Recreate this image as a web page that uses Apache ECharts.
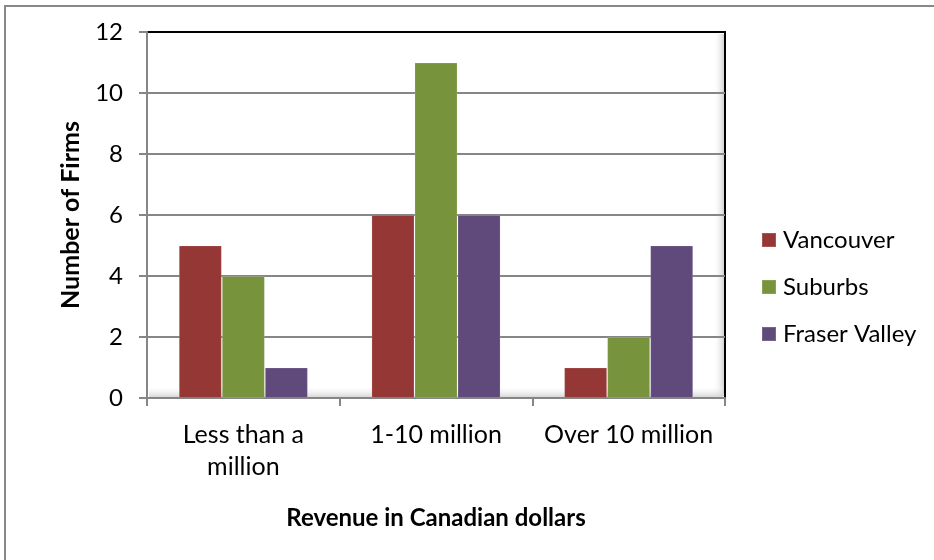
<!DOCTYPE html>
<html>
<head>
<meta charset="utf-8">
<style>
  html, body { margin: 0; padding: 0; background: #fff; }
  #chart { width: 934px; height: 560px; }
</style>
<script src="https://cdn.jsdelivr.net/npm/echarts@6/dist/echarts.min.js"></script>
</head>
<body>
<div id="chart"></div>
<script>
// Revenue bands and firm counts per region
const categories = ['Less than a\nmillion', '1-10 million', 'Over 10 million'];
const vancouver = [5, 6, 1];
const suburbs = [4, 11, 2];
const fraserValley = [1, 6, 5];
const seriesNames = ['Vancouver', 'Suburbs', 'Fraser Valley'];
const seriesColors = ['#953735', '#77933C', '#604A7B'];

const FONT = 'Lato, "Liberation Sans", sans-serif';
const chart = echarts.init(document.getElementById('chart'));

const plot = { left: 147, top: 32, width: 578, height: 366 };

chart.setOption({
  animation: false,
  textStyle: { fontFamily: FONT, color: '#000' },
  grid: {
    left: plot.left, top: plot.top, width: plot.width, height: plot.height,
    show: true, borderColor: '#000', borderWidth: 2, backgroundColor: 'transparent'
  },
  legend: {
    orient: 'vertical',
    left: 761, top: 228,
    padding: 0,
    itemWidth: 14, itemHeight: 14, itemGap: 23,
    icon: 'rect',
    textStyle: { fontSize: 24, fontFamily: FONT, color: '#000', padding: [0, 0, 0, 2] },
    data: seriesNames
  },
  xAxis: {
    type: 'category',
    data: categories,
    name: 'Revenue in Canadian dollars',
    nameLocation: 'middle',
    nameGap: 108,
    nameTextStyle: { fontSize: 24, fontWeight: 'bold', fontFamily: FONT, color: '#000' },
    axisLine: { show: true, lineStyle: { color: '#868686', width: 2 } },
    axisTick: { show: true, length: 8, alignWithLabel: false, lineStyle: { color: '#868686', width: 2 } },
    axisLabel: { fontSize: 25, lineHeight: 32, margin: 21, color: '#000', fontFamily: FONT, interval: 0 },
    splitLine: { show: false }
  },
  yAxis: {
    type: 'value',
    min: 0, max: 12, interval: 2,
    name: 'Number of Firms',
    nameLocation: 'middle',
    nameGap: 64,
    nameRotate: 90,
    nameTextStyle: { fontSize: 25, fontWeight: 'bold', fontFamily: FONT, color: '#000' },
    axisLine: { show: true, lineStyle: { color: '#868686', width: 2 } },
    axisTick: { show: true, length: 8, lineStyle: { color: '#868686', width: 2 } },
    axisLabel: { fontSize: 24, margin: 24, color: '#000', fontFamily: FONT },
    splitLine: { show: true, lineStyle: { color: ['#868686', '#868686', '#868686', '#868686', '#868686', '#868686', '#000'], width: 2 } }
  },
  graphic: [
    // outer chart frame
    { type: 'rect', shape: { x: 5, y: 6, width: 1000, height: 1000 }, style: { fill: 'none', stroke: '#888', lineWidth: 2 }, z: 100 },
    // back-wall shading on the right edge
    { type: 'rect', shape: { x: plot.left + plot.width - 12, y: plot.top + 2, width: 11, height: plot.height - 4 },
      style: { fill: new echarts.graphic.LinearGradient(0, 0, 1, 0, [{ offset: 0, color: 'rgba(255,255,255,0)' }, { offset: 1, color: 'rgba(200,200,200,0.8)' }]) }, z: -1 },
    // floor shading at the bottom
    { type: 'rect', shape: { x: plot.left + 2, y: plot.top + plot.height - 13, width: plot.width - 4, height: 12 },
      style: { fill: new echarts.graphic.LinearGradient(0, 0, 0, 1, [{ offset: 0, color: 'rgba(255,255,255,0)' }, { offset: 1, color: 'rgba(205,205,205,0.8)' }]) }, z: -1 }
  ],
  series: [vancouver, suburbs, fraserValley].map((data, i) => ({
    name: seriesNames[i],
    type: 'bar',
    data: data,
    barGap: '0%',
    barCategoryGap: '33%',
    itemStyle: { color: seriesColors[i], borderColor: 'rgba(255,255,255,0.15)', borderWidth: 1 },
    z: 3
  }))
});
</script>
</body>
</html>
